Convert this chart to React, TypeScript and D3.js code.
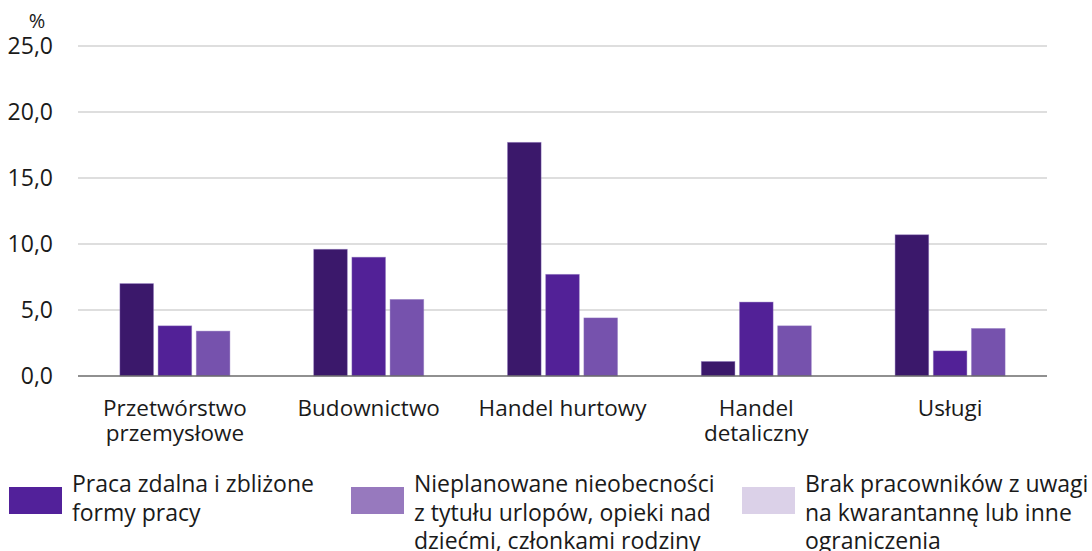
import * as d3 from 'd3';

const categories = [
  ['Przetwórstwo', 'przemysłowe'],
  ['Budownictwo'],
  ['Handel hurtowy'],
  ['Handel', 'detaliczny'],
  ['Usługi'],
];
const seriesNames = [
  ['Praca zdalna i zbliżone', 'formy pracy'],
  ['Nieplanowane nieobecności', 'z tytułu urlopów, opieki nad', 'dziećmi, członkami rodziny'],
  ['Brak pracowników z uwagi', 'na kwarantannę lub inne', 'ograniczenia'],
];
const remoteWork = [7.0, 9.6, 17.7, 1.1, 10.7];
const absences = [3.8, 9.0, 7.7, 5.6, 1.9];
const quarantine = [3.4, 5.8, 4.4, 3.8, 3.6];
const yTicks = [0, 5, 10, 15, 20, 25];

const barColors = ['#3b186b', '#522197', '#7652ad'];
const legendColors = ['#52219a', '#9779be', '#dbd1e8'];

const W = 1092;
const H = 551;
const margin = { left: 78, right: 45, top: 46, bottom: 175 };
const FONT = "'Open Sans', sans-serif";

export default function App() {
  const series = [remoteWork, absences, quarantine];
  const x = d3.scaleBand<number>()
    .domain(d3.range(categories.length))
    .range([margin.left, W - margin.right]);
  const inner = d3.scaleBand<number>()
    .domain(d3.range(series.length))
    .range([0, 110])
    .paddingInner(0.12);
  const y = d3.scaleLinear().domain([0, 25]).range([H - margin.bottom, margin.top]);
  const groupOffset = (x.bandwidth() - 110) / 2;

  const legendX = [9, 351, 742];

  return (
    <svg width={W} height={H} style={{ position: 'absolute', left: 0, top: 0 }} fontFamily={FONT}>
      <rect width={W} height={H} fill="#fff" />
      {yTicks.map(t => (
        <g key={t}>
          {t > 0 && (
            <line x1={margin.left} x2={W - margin.right} y1={y(t)} y2={y(t)} stroke="#bdbdbd" strokeWidth={1} />
          )}
          <text x={53} y={y(t)} dy="0.35em" textAnchor="end" fontSize={23} fill="#1a1a1a">
            {d3.format('.1f')(t).replace('.', ',')}
          </text>
        </g>
      ))}
      <text x={37} y={28} textAnchor="middle" fontSize={20} fill="#1a1a1a">%</text>

      {series.map((vals, si) =>
        vals.map((v, ci) => (
          <rect
            key={`${si}-${ci}`}
            x={(x(ci) ?? 0) + groupOffset + (inner(si) ?? 0)}
            y={y(v)}
            width={inner.bandwidth()}
            height={y(0) - y(v)}
            fill={barColors[si]}
            stroke="#8f76c0"
            strokeOpacity={0.5}
            strokeWidth={0.8}
          />
        ))
      )}
      <line x1={margin.left} x2={W - margin.right} y1={y(0)} y2={y(0)} stroke="#6b6b6b" strokeWidth={1.5} />

      {categories.map((lines, ci) => (
        <text key={ci} x={(x(ci) ?? 0) + x.bandwidth() / 2} y={416} textAnchor="middle" fontSize={22.5} fill="#1a1a1a">
          {lines.map((l, li) => (
            <tspan key={li} x={(x(ci) ?? 0) + x.bandwidth() / 2} dy={li === 0 ? 0 : 25}>{l}</tspan>
          ))}
        </text>
      ))}

      {seriesNames.map((lines, si) => (
        <g key={si}>
          <rect x={legendX[si]} y={487} width={53} height={27} fill={legendColors[si]} />
          <text x={legendX[si] + 63} y={492} fontSize={23} fill="#1a1a1a">
            {lines.map((l, li) => (
              <tspan key={li} x={legendX[si] + 63} dy={li === 0 ? 0 : 28.5}>{l}</tspan>
            ))}
          </text>
        </g>
      ))}
    </svg>
  );
}
